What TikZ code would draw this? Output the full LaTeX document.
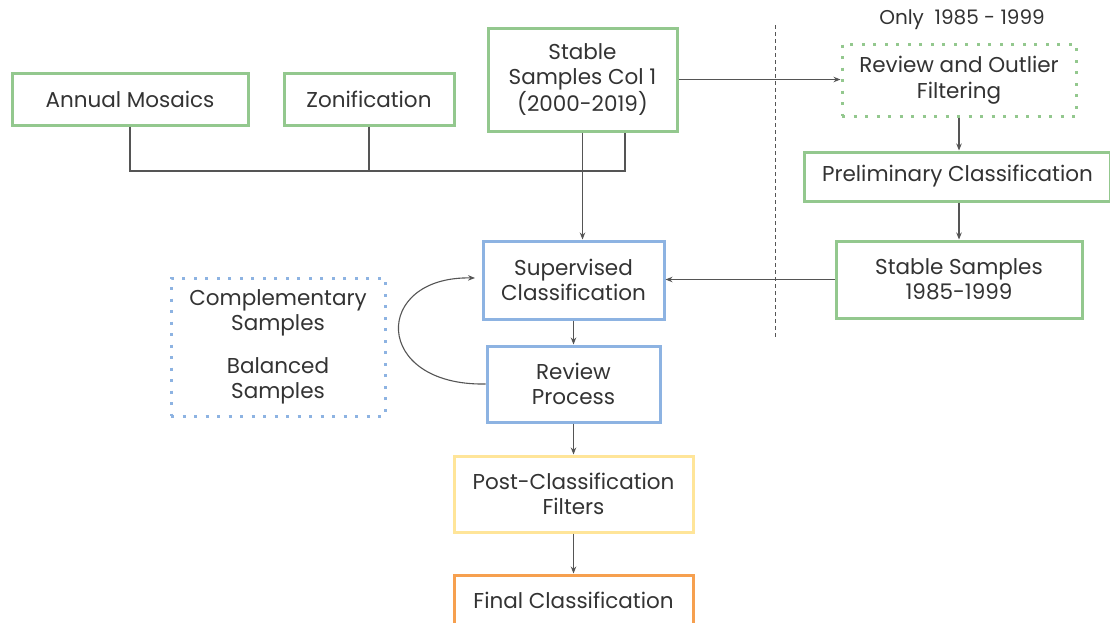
\documentclass[tikz,border=0pt]{standalone}
\usepackage{fontspec}
\setmainfont{Poppins}
\usetikzlibrary{arrows.meta}
\definecolor{gbox}{HTML}{93C88E}
\definecolor{bbox}{HTML}{8DB3E2}
\definecolor{ybox}{HTML}{FFE599}
\definecolor{obox}{HTML}{F6A04F}
\definecolor{lnc}{HTML}{555555}
\definecolor{txt}{HTML}{333333}
\tikzset{
  box/.style={draw, line width=3pt, rectangle, align=center, text=txt,
    font=\fontsize{21.5}{25.5}\selectfont, inner sep=2pt},
  gb/.style={box, draw=gbox},
  bb/.style={box, draw=bbox},
  yb/.style={box, draw=ybox},
  ob/.style={box, draw=obox},
  dotbox/.style={box, dash pattern=on 3pt off 8.5pt},
  conn/.style={draw=lnc, line width=1.1pt},
  arr/.style={conn, -{Stealth[length=7pt,width=5.5pt]}},
}
\begin{document}
\begin{tikzpicture}[x=1pt,y=-1pt]
\useasboundingbox[fill=white] (0,0) rectangle (1110,622);
\clip (0,0) rectangle (1110,622);

\node[gb, minimum width=236pt, minimum height=52pt] (AM) at (130,99) {Annual Mosaics};
\node[gb, minimum width=170pt, minimum height=52pt] (ZO) at (369,99) {Zonification};
\node[gb, minimum width=189pt, minimum height=103pt] (SS1) at (582.5,79.5) {Stable\\Samples Col 1\\(2000-2019)};
\node[gb, dotbox, minimum width=234pt, minimum height=72pt] (ROF) at (959,80) {Review and Outlier\\Filtering};
\node[gb, minimum width=306pt, minimum height=49pt, anchor=west] (PC) at (803,176.5) {Preliminary Classification};
\node[gb, minimum width=246pt, minimum height=77pt] (SS85) at (959,279.5) {Stable Samples\\1985-1999};
\node[bb, minimum width=181pt, minimum height=78pt] (SC) at (573.5,280) {Supervised\\Classification};
\node[bb, minimum width=173pt, minimum height=76pt] (RP) at (573.5,384) {Review\\Process};
\node[bb, dotbox, minimum width=214pt, minimum height=138pt] (CB) at (278,347) {Complementary\\Samples\\[17pt]Balanced\\Samples};
\node[yb, minimum width=239pt, minimum height=76pt] (PF) at (573.5,494) {Post-Classification\\Filters};
\node[ob, minimum width=239pt, minimum height=50pt] (FC) at (573.5,600) {Final Classification};
\node[text=txt, font=\fontsize{20}{24}\selectfont] (ONLY) at (962,20) {Only\ \ 1985 - 1999};

\coordinate (jr) at (625,171);
\coordinate (dtop) at (775,25);
\coordinate (dbot) at (775,338);
\coordinate (fb) at (475,278);

\draw[draw=lnc, line width=1pt, dash pattern=on 4pt off 3pt] (dtop) -- (dbot);

\draw[conn] (AM.south) |- (jr) -- (jr |- SS1.south);
\draw[conn] (ZO.south) -- (ZO.south |- jr);
\draw[arr] (SS1.south) -- (SS1.south |- SC.north);
\draw[arr] (SS1.east) -- (SS1.east -| ROF.west);
\draw[arr] (ROF.south) -- (ROF.south |- PC.north);
\draw[arr] (PC.south -| ROF.south) -- (ROF.south |- SS85.north);
\draw[arr] (SS85.west) -- (SS85.west -| SC.east);
\draw[arr] (SC.south) -- (RP.north);
\draw[arr] (RP.west) .. controls (372,386) and (372,276) .. (fb);
\draw[arr] (RP.south) -- (PF.north);
\draw[arr] (PF.south) -- (FC.north);
\end{tikzpicture}
\end{document}
